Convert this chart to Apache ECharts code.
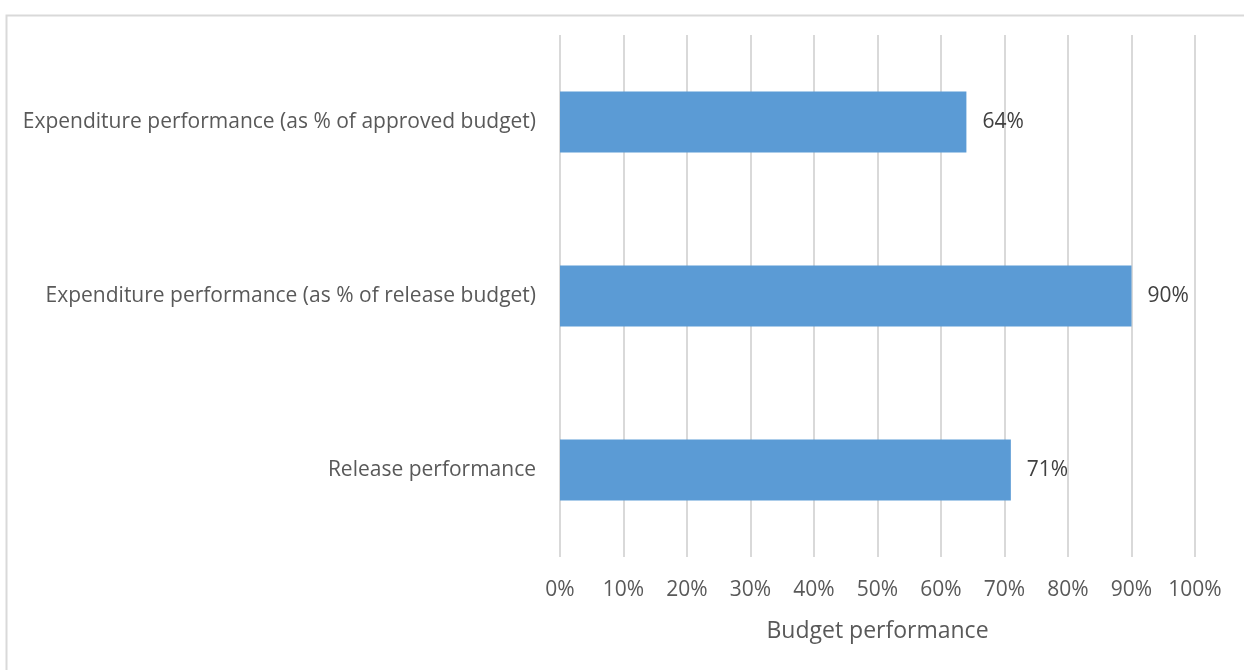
<!DOCTYPE html>
<html>
<head>
<meta charset="utf-8">
<script src="https://cdn.jsdelivr.net/npm/echarts@6/dist/echarts.min.js"></script>
<style>
  html, body { margin: 0; padding: 0; background: #ffffff; }
  #chart { width: 1244px; height: 670px; }
</style>
</head>
<body>
<div id="chart"></div>
<script>
// Budget performance indicators (percent)
const categories = [
  'Release performance',
  'Expenditure performance (as % of release budget)',
  'Expenditure performance (as % of approved budget)'
];
const performanceValues = [71, 90, 64];
const xTickLabels = ['0%', '10%', '20%', '30%', '40%', '50%', '60%', '70%', '80%', '90%', '100%'];

const FONT = '"Open Sans", "Noto Sans", sans-serif';

const chart = echarts.init(document.getElementById('chart'), null, { renderer: 'canvas' });
chart.setOption({
  animation: false,
  backgroundColor: '#ffffff',
  graphic: [{
    type: 'rect',
    shape: { x: 6.5, y: 15.5, width: 1300, height: 700 },
    style: { fill: 'none', stroke: '#d9d9d9', lineWidth: 2 },
    silent: true
  }],
  grid: { left: 560, right: 49, top: 35, bottom: 113, containLabel: false },
  xAxis: {
    type: 'value',
    min: 0,
    max: 100,
    interval: 10,
    name: 'Budget performance',
    nameLocation: 'middle',
    nameGap: 63,
    nameTextStyle: { fontFamily: FONT, fontSize: 23, color: '#595959' },
    axisLine: { show: false },
    axisTick: { show: false },
    axisLabel: {
      margin: 23,
      fontFamily: FONT,
      fontSize: 21,
      color: '#595959',
      formatter: (v) => xTickLabels[Math.round(v / 10)]
    },
    splitLine: { show: true, lineStyle: { color: '#d9d9d9', width: 2 } }
  },
  yAxis: {
    type: 'category',
    data: categories,
    axisLine: { show: false },
    axisTick: { show: false },
    axisLabel: {
      margin: 24,
      fontFamily: FONT,
      fontSize: 21,
      color: '#595959'
    },
    splitLine: { show: false }
  },
  series: [{
    type: 'bar',
    data: performanceValues,
    barCategoryGap: '65%',
    itemStyle: { color: '#5b9bd5' },
    label: {
      show: true,
      position: 'right',
      distance: 16,
      fontFamily: FONT,
      fontSize: 21,
      color: '#404040',
      formatter: (p) => p.value + '%'
    }
  }]
});
</script>
</body>
</html>
